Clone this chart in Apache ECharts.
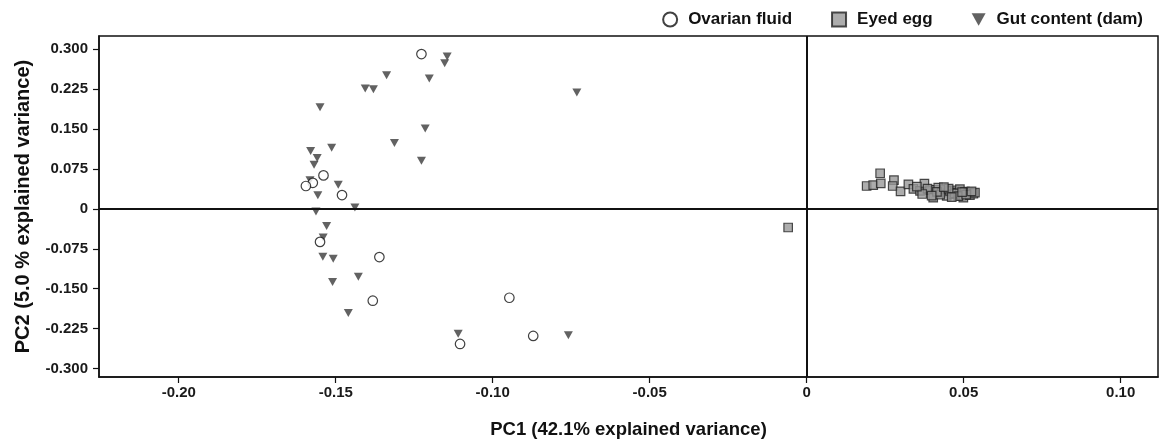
<!DOCTYPE html>
<html>
<head>
<meta charset="utf-8">
<script src="https://cdn.jsdelivr.net/npm/echarts@6/dist/echarts.min.js"></script>
<style>
  html, body { margin: 0; padding: 0; background: #fff; }
  #chart { width: 1161px; height: 444px; }
</style>
</head>
<body>
<div id="chart"></div>
<script>
// tick values
const xTicks = [-0.2, -0.15, -0.1, -0.05, 0, 0.05, 0.1]
const yTicks = [-0.3, -0.225, -0.15, -0.075, 0, 0.075, 0.15, 0.225, 0.3]

// [PC1, PC2]
const ovarianFluid = [
  [-0.1227, 0.291], [-0.1539, 0.063], [-0.1573, 0.049], [-0.1595, 0.043],
  [-0.148, 0.026], [-0.155, -0.062], [-0.1361, -0.0906], [-0.1382, -0.1726],
  [-0.0947, -0.167], [-0.1104, -0.2539], [-0.0871, -0.2388]
]

const gutContent = [
  [-0.1145, 0.2865], [-0.1153, 0.274], [-0.1338, 0.251], [-0.1202, 0.245],
  [-0.1406, 0.2265], [-0.138, 0.225], [-0.0732, 0.219], [-0.155, 0.191],
  [-0.1215, 0.151], [-0.1313, 0.124], [-0.1513, 0.115], [-0.158, 0.109],
  [-0.1559, 0.0957], [-0.1227, 0.0906], [-0.1569, 0.083], [-0.1582, 0.054],
  [-0.1492, 0.0456], [-0.1557, 0.0257], [-0.1439, 0.0024], [-0.1563, -0.005],
  [-0.1529, -0.032], [-0.154, -0.054], [-0.1541, -0.09], [-0.1508, -0.0938],
  [-0.1428, -0.1276], [-0.151, -0.1375], [-0.146, -0.1957], [-0.111, -0.2345],
  [-0.0759, -0.2377]
]

const eyedEgg = [
  [-0.0059, -0.035],
  [0.0234, 0.067], [0.0191, 0.043], [0.0212, 0.0445], [0.0236, 0.048],
  [0.0278, 0.054], [0.0274, 0.043], [0.0299, 0.033], [0.0324, 0.046],
  [0.034, 0.0375], [0.0361, 0.034], [0.0375, 0.0475], [0.0393, 0.035],
  [0.0409, 0.036], [0.0403, 0.021], [0.0419, 0.040], [0.043, 0.0305],
  [0.044, 0.037], [0.0446, 0.0245], [0.0456, 0.034], [0.0467, 0.0275],
  [0.0472, 0.035], [0.0478, 0.0305], [0.0488, 0.037], [0.0494, 0.0245],
  [0.0499, 0.021], [0.0504, 0.0325], [0.0515, 0.0305], [0.052, 0.026],
  [0.0531, 0.0285], [0.0536, 0.0305], [0.0472, 0.029], [0.0425, 0.027],
  [0.0415, 0.032], [0.0385, 0.038], [0.0368, 0.028], [0.0452, 0.038],
  [0.0483, 0.024], [0.0508, 0.027], [0.0525, 0.033], [0.0462, 0.022],
  [0.0437, 0.041], [0.0398, 0.025], [0.0351, 0.042], [0.0495, 0.0315]
]

const font = 'Liberation Sans, Arial, Helvetica, sans-serif'
const tri = 'path://M0,0 L10,0 L5,9 Z'

const chart = echarts.init(document.getElementById('chart'))

chart.setOption({
  animation: false,
  textStyle: { fontFamily: font },
  legend: {
    top: 6,
    right: 13,
    itemGap: 39,
    itemWidth: 14,
    itemHeight: 14,
    textStyle: {
      fontFamily: font, fontSize: 17, fontWeight: 'bold', color: '#111',
      padding: [0, 0, 0, 6]
    },
    data: [
      { name: 'Ovarian fluid' },
      { name: 'Eyed egg' },
      { name: 'Gut content (dam)', icon: tri }
    ]
  },
  grid: {
    left: 99, right: 3, top: 36, bottom: 66,
    show: true, borderColor: '#111', borderWidth: 1.5
  },
  xAxis: {
    type: 'value',
    min: -0.2254,
    max: 0.1119,
    name: 'PC1 (42.1% explained variance)',
    nameLocation: 'middle',
    nameGap: 43,
    nameTextStyle: { fontSize: 18.5, fontWeight: 'bold', color: '#111' },
    splitLine: { show: false },
    axisLine: { onZero: false, lineStyle: { color: '#111', width: 1.5 } },
    axisTick: { show: true, length: 6, customValues: xTicks, lineStyle: { color: '#111', width: 1.2 } },
    axisLabel: {
      customValues: xTicks,
      margin: 8,
      fontSize: 15, fontWeight: 'bold', color: '#1a1a1a',
      formatter: v => (Math.abs(v) < 1e-9 ? '0' : v.toFixed(2))
    }
  },
  yAxis: {
    type: 'value',
    min: -0.316,
    max: 0.325,
    name: 'PC2 (5.0 % explained variance)',
    nameLocation: 'middle',
    nameGap: 66,
    nameTextStyle: { fontSize: 20, fontWeight: 'bold', color: '#111' },
    splitLine: { show: false },
    axisLine: { onZero: false, lineStyle: { color: '#111', width: 1.5 } },
    axisTick: { show: true, length: 6, customValues: yTicks, lineStyle: { color: '#111', width: 1.2 } },
    axisLabel: {
      customValues: yTicks,
      margin: 11,
      fontSize: 15, fontWeight: 'bold', color: '#1a1a1a',
      formatter: v => (Math.abs(v) < 1e-9 ? '0' : v.toFixed(3))
    }
  },
  series: [
    {
      name: 'Gut content (dam)',
      type: 'scatter',
      symbol: tri,
      symbolSize: [9, 8],
      itemStyle: { color: '#3b3b3b' },
      data: gutContent,
      z: 2,
      markLine: {
        silent: true,
        symbol: 'none',
        label: { show: false },
        lineStyle: { color: '#111', width: 2, type: 'solid' },
        data: [{ xAxis: 0 }, { yAxis: 0 }]
      }
    },
    {
      name: 'Eyed egg',
      type: 'scatter',
      symbol: 'rect',
      symbolSize: 8.5,
      itemStyle: { color: '#999', borderColor: '#222', borderWidth: 1.2 },
      data: eyedEgg,
      z: 3
    },
    {
      name: 'Ovarian fluid',
      type: 'scatter',
      symbol: 'circle',
      symbolSize: 9.5,
      itemStyle: { color: '#fff', borderColor: '#111', borderWidth: 1.2 },
      data: ovarianFluid,
      z: 4
    }
  ]
})
</script>
</body>
</html>
